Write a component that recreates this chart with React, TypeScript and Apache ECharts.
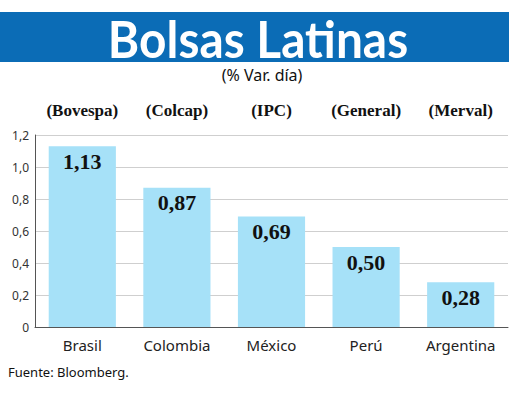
import React, { useEffect, useRef } from "react";
import * as echarts from "echarts";

const countries = ["Brasil", "Colombia", "México", "Perú", "Argentina"];
const indices = ["(Bovespa)", "(Colcap)", "(IPC)", "(General)", "(Merval)"];
const values = [1.13, 0.87, 0.69, 0.5, 0.28];
const titleText = "Bolsas Latinas";
const subtitleText = "(% Var. día)";
const sourceText = "Fuente: Bloomberg.";

export default function App() {
  const ref = useRef<HTMLDivElement>(null);
  useEffect(() => {
    if (!ref.current) return;
    const chart = echarts.init(ref.current, null, { renderer: "svg" });
    chart.setOption({
      animation: false,
      backgroundColor: "#ffffff",
      graphic: [
        { type: "rect", shape: { x: 0, y: 12, width: 509, height: 50 }, style: { fill: "#0b6cb6" } },
        {
          type: "text",
          x: 258,
          y: 38,
          scaleX: 0.92,
          style: {
            text: titleText,
            fill: "#ffffff",
            font: "bold 52px Lato",
            textAlign: "center",
            textVerticalAlign: "middle",
          },
        },
        {
          type: "text",
          x: 262,
          y: 75,
          style: {
            text: subtitleText,
            fill: "#111",
            font: "16px 'Noto Sans'",
            textAlign: "center",
            textVerticalAlign: "middle",
          },
        },
        {
          type: "text",
          x: 8,
          y: 372,
          style: {
            text: sourceText,
            fill: "#111",
            font: "13px 'Noto Sans'",
            textAlign: "left",
            textVerticalAlign: "middle",
          },
        },
      ],
      grid: { left: 35, right: 12, top: 135, bottom: 70 },
      xAxis: [
        {
          type: "category",
          data: countries,
          position: "bottom",
          axisLine: { show: true, lineStyle: { color: "#555", width: 1 } },
          axisTick: { show: false },
          axisLabel: { fontSize: 15, color: "#222", margin: 10, fontFamily: "'Noto Sans'" },
        },
        {
          type: "category",
          data: indices,
          position: "top",
          axisLine: { show: false },
          axisTick: { show: false },
          axisLabel: {
            fontSize: 17,
            fontWeight: "bold",
            color: "#111",
            margin: 16,
            fontFamily: "'Liberation Serif'",
          },
        },
      ],
      yAxis: {
        type: "value",
        min: 0,
        max: 1.2,
        interval: 0.2,
        axisLine: { show: true, lineStyle: { color: "#555", width: 1 } },
        axisTick: { show: false },
        splitLine: { lineStyle: { color: "#cfcfcf", width: 1 } },
        axisLabel: {
          fontSize: 12,
          color: "#333",
          margin: 6,
          fontFamily: "'Noto Sans'",
          formatter: (v: number) => (v === 0 ? "0" : v.toFixed(1).replace(".", ",")),
        },
      },
      series: [
        {
          type: "bar",
          data: values,
          barWidth: "71%",
          itemStyle: { color: "#a6e1f8" },
          label: {
            show: true,
            position: "insideTop",
            distance: 4,
            fontSize: 22,
            fontWeight: "bold",
            color: "#111",
            fontFamily: "'Liberation Serif'",
            formatter: (p: any) => p.value.toFixed(2).replace(".", ","),
          },
        },
      ],
    });
    return () => chart.dispose();
  }, []);
  return (
    <div
      ref={ref}
      style={{ position: "fixed", left: 0, top: 0, width: 520, height: 397 }}
    />
  );
}
